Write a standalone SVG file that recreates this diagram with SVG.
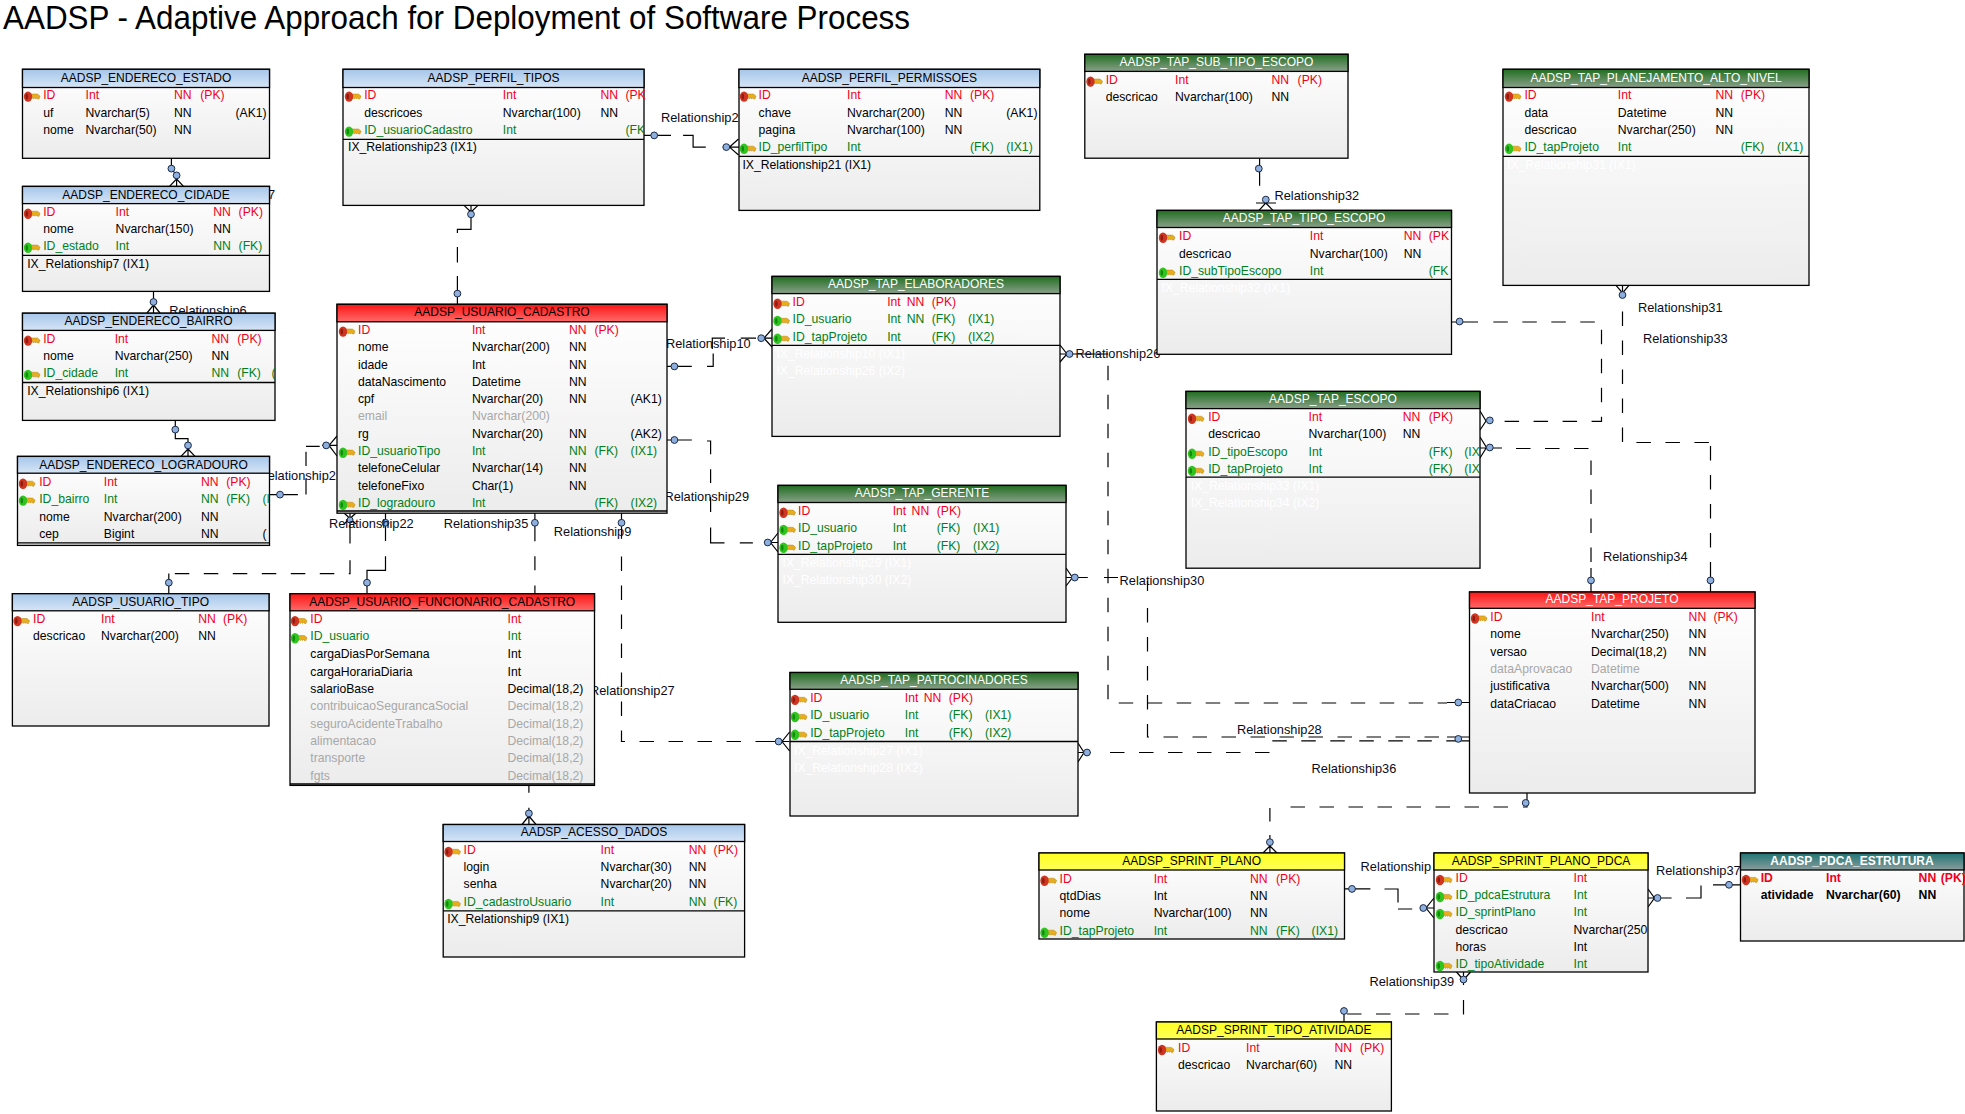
<svg xmlns="http://www.w3.org/2000/svg" width="1965" height="1114" viewBox="0 0 1965 1114">
<style>
text{font-family:"Liberation Sans",Arial,sans-serif;font-size:12.2px;fill:#000}
.title{font-size:33px}
.l{font-size:12.8px;fill:#0a0a20}
.h{font-size:12px;text-anchor:middle;transform:translateY(-1px)}
.hw{font-size:12px;text-anchor:middle;fill:#fff;transform:translateY(-1px)}
.r{fill:#f00020}
.g{fill:#008020}
.q{fill:#a8a8a8}
.w{fill:#fff}
.bd{font-weight:bold}
.b{fill:url(#body);stroke:#000;stroke-width:1.3}
.hb,.hr,.hg,.hy,.ht{stroke:#000;stroke-width:1.3}
.hb{fill:url(#gb)}.hr{fill:url(#gr)}.hg{fill:url(#gg)}.hy{fill:url(#gy)}.ht{fill:url(#gt)}
.dv{stroke:#000;stroke-width:1.3;fill:none}
.c{fill:none;stroke:#000;stroke-width:1.2}
.d{fill:none;stroke:#000;stroke-width:1.2;stroke-dasharray:14.5 14.5}
.o{fill:#8fb0dc;stroke:#1a2a4a;stroke-width:1}
</style>
<defs>
<linearGradient id="body" x1="0" y1="0" x2="0" y2="1"><stop offset="0" stop-color="#ffffff"/><stop offset="1" stop-color="#ececec"/></linearGradient>
<linearGradient id="gb" x1="0" y1="0" x2="0" y2="1"><stop offset="0" stop-color="#a6c6ea"/><stop offset="1" stop-color="#d6e5f6"/></linearGradient>
<linearGradient id="gr" x1="0" y1="0" x2="0" y2="1"><stop offset="0" stop-color="#ff1414"/><stop offset="1" stop-color="#ff6a6a"/></linearGradient>
<linearGradient id="gg" x1="0" y1="0" x2="0" y2="1"><stop offset="0" stop-color="#206e20"/><stop offset="1" stop-color="#8aa08a"/></linearGradient>
<linearGradient id="gy" x1="0" y1="0" x2="0" y2="1"><stop offset="0" stop-color="#ffff20"/><stop offset="1" stop-color="#ffff5a"/></linearGradient>
<linearGradient id="gt" x1="0" y1="0" x2="0" y2="1"><stop offset="0" stop-color="#1f7474"/><stop offset="1" stop-color="#8a9c9c"/></linearGradient>
<g id="key"><path d="M6.5 -2.6h7l2.6 2.2-1.2 2.8h-1.4l-.9-1.2-1 1.2-1-1.2-1 1.2-1-1.2-1 1.2H6.5z" fill="#e8ad1c" stroke="#b5851a" stroke-width=".5"/></g>
<g id="pk"><use href="#key"/><ellipse cx="4" cy="0" rx="4.2" ry="5.2" fill="#cf3520"/><ellipse cx="2.8" cy="0" rx="1.3" ry="3" fill="#8e1c10"/></g>
<g id="fk"><use href="#key"/><ellipse cx="4" cy="0" rx="4.2" ry="5.2" fill="#30c41e"/><ellipse cx="2.8" cy="0" rx="1.3" ry="3" fill="#128a10"/></g>
</defs>
<rect width="1965" height="1114" fill="#fff"/>
<text class="title" x="3" y="29" textLength="907" lengthAdjust="spacingAndGlyphs">AADSP - Adaptive Approach for Deployment of Software Process</text>

<g id="connectors">
<path class="c" d="M171.4 158V168.6L176.6 175.4V186.4M176.6 179L169.5 186.4M176.6 179L183.5 186.4"/><circle class="o" cx="171.4" cy="168.6" r="3.4"/><circle class="o" cx="176.6" cy="175.4" r="3.4"/>
<path class="c" d="M153.5 291.4V313M153.5 305L147 313M153.5 305L160 313"/><circle class="o" cx="153.5" cy="302" r="3.4"/>
<path class="c" d="M175.3 420.4V438.6H188V456.4M188 449L181 456.4M188 449L195 456.4"/><circle class="o" cx="175.3" cy="429.6" r="3.4"/><circle class="o" cx="188" cy="445.4" r="3.4"/>
<path class="c" d="M471 205.4V229.3H457.4V233M471 212L464 205.4M471 212L478 205.4M457.4 247V262.5M457.4 276V304.3"/><circle class="o" cx="471" cy="214.3" r="3.4"/><circle class="o" cx="457.4" cy="293.6" r="3.4"/>
<path class="c" d="M644 135.4H671M683.1 135.4H693.1V147.1H705.8M722.7 147.1H739M738.5 139L729.5 147.1L738.5 155"/><circle class="o" cx="654.2" cy="135.4" r="3.4"/><circle class="o" cx="726.3" cy="147.1" r="3.4"/>
<path class="c" d="M269.5 494.6H297.9M306 478.6V494.6M306 451.8V466M306 446.4H319.7M322 445.4H337M337 436L329 445.4L337 456"/><circle class="o" cx="280" cy="494.6" r="3.4"/><circle class="o" cx="326.2" cy="445.4" r="3.4"/>
<path class="c" d="M667 366.4H691.8M707 366.4H713.2V353.6M712.3 349V338.2H725M740.7 338.2H756M758 338.2H772M772 329L764 338.2L772 347"/><circle class="o" cx="674.4" cy="366.4" r="3.4"/><circle class="o" cx="761.2" cy="338.2" r="3.4"/>
<path class="c" d="M667 440H691.8M707 441H710.6V454.3M710.6 469.3V482.9M710.6 497V512M710.6 527.5V542.9H724.5M739.8 542.9H752.9M764 542.5H778M778 533L770.5 542.5L778 552"/><circle class="o" cx="674.4" cy="440" r="3.4"/><circle class="o" cx="767.7" cy="542.5" r="3.4"/>
<path class="c" d="M1060 345L1067 354L1060 362M1060 354H1108M1447 702.5H1469.5"/><path class="d" d="M1108 365.7V703H1447"/><circle class="o" cx="1069.5" cy="354" r="3.4"/><circle class="o" cx="1458.3" cy="702.5" r="3.4"/>
<path class="c" d="M1066 568L1072.5 577.5L1066 586M1066 577.5H1087.8M1104 577.5H1118M1147.5 581V591M1447 737H1469.5"/><path class="d" d="M1147.5 608V737H1447"/><circle class="o" cx="1074.8" cy="577.5" r="3.4"/>
<path class="c" d="M1078 743L1084 752.5L1078 762M1078 752.5H1091M1447 740.8H1469.5"/><path class="d" d="M1110 752.5H1270V740.8H1447"/><circle class="o" cx="1087" cy="752.5" r="3.4"/><circle class="o" cx="1458.3" cy="738.9" r="3.4"/>
<path class="c" d="M789.6 732L782 741.5L789.6 751M766 741.5H789.6M621.5 513V538.7"/><path class="d" d="M621.5 556.5V741.5H766"/><circle class="o" cx="778.6" cy="741.5" r="3.4"/><circle class="o" cx="621.5" cy="522.8" r="3.4"/>
<path class="c" d="M534.9 513V541.2M534.9 556.3V570.3M534.9 585.4V594M528.9 786V792.7M528.9 807.8V824.5M528.9 816L522 824.5M528.9 816L536 824.5"/><circle class="o" cx="534.9" cy="522.8" r="3.4"/><circle class="o" cx="528.9" cy="813.4" r="3.4"/>
<path class="c" d="M344 513L356 524M356 513L344 524M350 513V543.5M168.8 573.6V593.7"/><path class="d" d="M350 560.3V573.6H168.8"/><circle class="o" cx="350" cy="520" r="3"/><circle class="o" cx="168.8" cy="582.7" r="3.4"/>
<path class="c" d="M385.5 513V540.9M385.5 556.3V570.3H367V593.7"/><circle class="o" cx="385.5" cy="522.8" r="3.4"/><circle class="o" cx="367" cy="582.7" r="3.4"/>
<path class="c" d="M1616 285.4L1622.5 293L1629 285.4M1622.5 285.4V298M1710.5 570V592"/><path class="d" d="M1622.5 311.4V442.5H1710.5M1710.5 446V570"/><circle class="o" cx="1622.5" cy="295" r="3.4"/><circle class="o" cx="1710.5" cy="580.4" r="3.4"/>
<path class="c" d="M1451.5 322H1478M1480 411L1486 421L1480 430"/><path class="d" d="M1493.3 322H1601.5V421.4H1499"/><circle class="o" cx="1459.6" cy="321.5" r="3.4"/><circle class="o" cx="1489.8" cy="420.4" r="3.4"/>
<path class="c" d="M1480 437L1486.5 447.5L1480 458M1480 448H1502M1591 568V592"/><path class="d" d="M1516 448.5H1591V568"/><circle class="o" cx="1489.8" cy="447.5" r="3.4"/><circle class="o" cx="1591" cy="580.4" r="3.4"/>
<path class="c" d="M1527 793V807H1523M1269.9 808V821.5M1269.9 835V853M1269.9 846L1263 853M1269.9 846L1277 853"/><path class="d" d="M1508 807H1279"/><circle class="o" cx="1525.7" cy="802.9" r="3.4"/><circle class="o" cx="1269.9" cy="842.2" r="3.4"/>
<path class="c" d="M1344.5 888.9H1370.4M1384.5 889H1398V902.5M1398 909H1412.2M1420 908H1434M1434 898L1426 908L1434 918"/><circle class="o" cx="1352" cy="888.9" r="3.4"/><circle class="o" cx="1423.3" cy="908" r="3.4"/>
<path class="c" d="M1648 889L1654.5 898L1648 907M1648 898H1671.6M1686 898H1701V885.5M1713 884.8H1740.5"/><circle class="o" cx="1657.5" cy="898" r="3.4"/><circle class="o" cx="1729" cy="884.8" r="3.4"/>
<path class="c" d="M1456.5 972L1463.5 980L1470.5 972M1463.5 972V985M1344 1012V1022"/><path class="d" d="M1463.5 1000V1014H1344"/><circle class="o" cx="1463.5" cy="979.5" r="3.4"/><circle class="o" cx="1344" cy="1011" r="3.4"/>
<path class="c" d="M1259.6 158.2V185.7M1256 203H1276M1265.8 203L1259 210.4M1265.8 203L1273 210.4"/><circle class="o" cx="1258.8" cy="168.6" r="3.4"/><circle class="o" cx="1265.8" cy="199.6" r="3.4"/>
<text class="l" x="197.5" y="198.5">Relationship7</text>
<text class="l" x="169.2" y="315">Relationship6</text>
<text class="l" x="258.4" y="480">Relationship2</text>
<text class="l" x="661" y="122">Relationship2</text>
<text class="l" x="666" y="348">Relationship10</text>
<text class="l" x="664.4" y="501.3">Relationship29</text>
<text class="l" x="1075.6" y="358">Relationship26</text>
<text class="l" x="1119.6" y="585">Relationship30</text>
<text class="l" x="1274.5" y="200">Relationship32</text>
<text class="l" x="1637.9" y="312.4">Relationship31</text>
<text class="l" x="1643" y="343">Relationship33</text>
<text class="l" x="1602.9" y="561.3">Relationship34</text>
<text class="l" x="1237" y="734">Relationship28</text>
<text class="l" x="1311.6" y="772.7">Relationship36</text>
<text class="l" x="1360.6" y="871">Relationship</text>
<text class="l" x="1656" y="875">Relationship37</text>
<text class="l" x="1369.5" y="986">Relationship39</text>
<text class="l" x="329" y="527.5">Relationship22</text>
<text class="l" x="443.7" y="528">Relationship35</text>
<text class="l" x="553.8" y="535.5">Relationship9</text>
<text class="l" x="590" y="694.5">Relationship27</text>
</g>

<g id="AADSP_ENDERECO_ESTADO">
<rect class="b" x="22.5" y="69.3" width="247" height="89"/><rect class="hb" x="22.5" y="69.3" width="247" height="18.2"/>
<text class="h" x="146" y="82.5">AADSP_ENDERECO_ESTADO</text>
<use href="#pk" x="24" y="96.6"/>
<text class="r" y="98.8"><tspan x="43.2">ID</tspan><tspan x="85.5">Int</tspan><tspan x="174">NN</tspan><tspan x="200.2">(PK)</tspan></text>
<text y="117.1"><tspan x="43.2">uf</tspan><tspan x="85.5">Nvarchar(5)</tspan><tspan x="174">NN</tspan><tspan x="235.5">(AK1)</tspan></text>
<text y="133.8"><tspan x="43.2">nome</tspan><tspan x="85.5">Nvarchar(50)</tspan><tspan x="174">NN</tspan></text>
</g>
<g id="AADSP_ENDERECO_CIDADE">
<rect class="b" x="22.5" y="186.4" width="247" height="105"/><rect class="hb" x="22.5" y="186.4" width="247" height="17.2"/><path class="dv" d="M22.5 255.4H269.5"/>
<text class="h" x="146" y="199.5">AADSP_ENDERECO_CIDADE</text>
<use href="#pk" x="24" y="213.8"/>
<text class="r" y="216"><tspan x="43.2">ID</tspan><tspan x="115.6">Int</tspan><tspan x="213.3">NN</tspan><tspan x="238.6">(PK)</tspan></text>
<text y="232.8"><tspan x="43.2">nome</tspan><tspan x="115.6">Nvarchar(150)</tspan><tspan x="213.3">NN</tspan></text>
<use href="#fk" x="24" y="247.7"/>
<text class="g" y="249.9"><tspan x="43.2">ID_estado</tspan><tspan x="115.6">Int</tspan><tspan x="213.3">NN</tspan><tspan x="238.6">(FK)</tspan></text>
<text x="27.2" y="267.8">IX_Relationship7 (IX1)</text>
</g>
<g id="AADSP_ENDERECO_BAIRRO">
<rect class="b" x="22.5" y="313.2" width="252.5" height="107.2"/><rect class="hb" x="22.5" y="313.2" width="252.5" height="17.2"/><path class="dv" d="M22.5 382.5H275"/>
<text class="h" x="148.5" y="326.2">AADSP_ENDERECO_BAIRRO</text>
<use href="#pk" x="24" y="340.6"/>
<text class="r" y="342.8"><tspan x="43.2">ID</tspan><tspan x="114.7">Int</tspan><tspan x="211.5">NN</tspan><tspan x="237.2">(PK)</tspan></text>
<text y="359.9"><tspan x="43.2">nome</tspan><tspan x="114.7">Nvarchar(250)</tspan><tspan x="211.5">NN</tspan></text>
<use href="#fk" x="24" y="374.9"/>
<text class="g" y="377.1"><tspan x="43.2">ID_cidade</tspan><tspan x="114.7">Int</tspan><tspan x="211.5">NN</tspan><tspan x="237.2">(FK)</tspan><tspan x="271.5">(</tspan></text>
<text x="27.2" y="394.9">IX_Relationship6 (IX1)</text>
</g>
<g id="AADSP_ENDERECO_LOGRADOURO">
<rect class="b" x="17.5" y="456.4" width="252" height="89"/><rect class="hb" x="17.5" y="456.4" width="252" height="16.8"/><path class="dv" d="M17.5 542.9H269.5"/>
<text class="h" x="143.5" y="469.5">AADSP_ENDERECO_LOGRADOURO</text>
<use href="#pk" x="19" y="483.8"/>
<text class="r" y="486"><tspan x="39.2">ID</tspan><tspan x="103.8">Int</tspan><tspan x="201">NN</tspan><tspan x="226.3">(PK)</tspan></text>
<use href="#fk" x="19" y="500.6"/>
<text class="g" y="502.8"><tspan x="39.2">ID_bairro</tspan><tspan x="103.8">Int</tspan><tspan x="201">NN</tspan><tspan x="226.3">(FK)</tspan><tspan x="262.5">(I</tspan></text>
<text y="521"><tspan x="39.2">nome</tspan><tspan x="103.8">Nvarchar(200)</tspan><tspan x="201">NN</tspan></text>
<text y="537.8"><tspan x="39.2">cep</tspan><tspan x="103.8">Bigint</tspan><tspan x="201">NN</tspan><tspan x="262.5">(</tspan></text>
</g>
<g id="AADSP_PERFIL_TIPOS">
<rect class="b" x="343" y="69.3" width="301" height="136.1"/><rect class="hb" x="343" y="69.3" width="301" height="18.2"/><path class="dv" d="M343 139.3H644"/>
<text class="h" x="493.5" y="82.5">AADSP_PERFIL_TIPOS</text>
<use href="#pk" x="345" y="96.6"/>
<text class="r" y="98.8"><tspan x="364.2">ID</tspan><tspan x="502.8">Int</tspan><tspan x="600.5">NN</tspan><tspan x="625.4">(PK</tspan></text>
<text y="117.1"><tspan x="364.2">descricoes</tspan><tspan x="502.8">Nvarchar(100)</tspan><tspan x="600.5">NN</tspan></text>
<use href="#fk" x="345" y="131.6"/>
<text class="g" y="133.8"><tspan x="364.2">ID_usuarioCadastro</tspan><tspan x="502.8">Int</tspan><tspan x="625.4">(FK</tspan></text>
<text x="348" y="151">IX_Relationship23 (IX1)</text>
</g>
<g id="AADSP_USUARIO_CADASTRO">
<rect class="b" x="337" y="304.3" width="330" height="208.9"/><rect class="hr" x="337" y="304.3" width="330" height="17.5"/><path class="dv" d="M337 511H667"/>
<text class="h" x="502" y="317.4">AADSP_USUARIO_CADASTRO</text>
<use href="#pk" x="339" y="331.6"/>
<text class="r" y="333.8"><tspan x="358">ID</tspan><tspan x="471.9">Int</tspan><tspan x="569">NN</tspan><tspan x="594.4">(PK)</tspan></text>
<text y="351"><tspan x="358">nome</tspan><tspan x="471.9">Nvarchar(200)</tspan><tspan x="569">NN</tspan></text>
<text y="368.8"><tspan x="358">idade</tspan><tspan x="471.9">Int</tspan><tspan x="569">NN</tspan></text>
<text y="386"><tspan x="358">dataNascimento</tspan><tspan x="471.9">Datetime</tspan><tspan x="569">NN</tspan></text>
<text y="402.8"><tspan x="358">cpf</tspan><tspan x="471.9">Nvarchar(20)</tspan><tspan x="569">NN</tspan><tspan x="630.6">(AK1)</tspan></text>
<text class="q" y="419.9"><tspan x="358">email</tspan><tspan x="471.9">Nvarchar(200)</tspan></text>
<text y="437.8"><tspan x="358">rg</tspan><tspan x="471.9">Nvarchar(20)</tspan><tspan x="569">NN</tspan><tspan x="630.6">(AK2)</tspan></text>
<use href="#fk" x="339" y="452.7"/>
<text class="g" y="454.9"><tspan x="358">ID_usuarioTipo</tspan><tspan x="471.9">Int</tspan><tspan x="569">NN</tspan><tspan x="594.4">(FK)</tspan><tspan x="630.6">(IX1)</tspan></text>
<text y="472.1"><tspan x="358">telefoneCelular</tspan><tspan x="471.9">Nvarchar(14)</tspan><tspan x="569">NN</tspan></text>
<text y="489.9"><tspan x="358">telefoneFixo</tspan><tspan x="471.9">Char(1)</tspan><tspan x="569">NN</tspan></text>
<use href="#fk" x="339" y="504.9"/>
<text class="g" y="507.1"><tspan x="358">ID_logradouro</tspan><tspan x="471.9">Int</tspan><tspan x="594.4">(FK)</tspan><tspan x="630.6">(IX2)</tspan></text>
</g>
<g id="AADSP_PERFIL_PERMISSOES">
<rect class="b" x="739" y="69.3" width="300.8" height="141.1"/><rect class="hb" x="739" y="69.3" width="300.8" height="18.2"/><path class="dv" d="M739 156.4H1039.8"/>
<text class="h" x="889.4" y="82.5">AADSP_PERFIL_PERMISSOES</text>
<use href="#pk" x="740" y="96.6"/>
<text class="r" y="98.8"><tspan x="758.6">ID</tspan><tspan x="847">Int</tspan><tspan x="944.8">NN</tspan><tspan x="970">(PK)</tspan></text>
<text y="116.7"><tspan x="758.6">chave</tspan><tspan x="847">Nvarchar(200)</tspan><tspan x="944.8">NN</tspan><tspan x="1006.3">(AK1)</tspan></text>
<text y="133.8"><tspan x="758.6">pagina</tspan><tspan x="847">Nvarchar(100)</tspan><tspan x="944.8">NN</tspan></text>
<use href="#fk" x="740" y="148.8"/>
<text class="g" y="151"><tspan x="758.6">ID_perfilTipo</tspan><tspan x="847">Int</tspan><tspan x="970">(FK)</tspan><tspan x="1006.3">(IX1)</tspan></text>
<text x="742.4" y="168.8">IX_Relationship21 (IX1)</text>
</g>
<g id="AADSP_TAP_SUB_TIPO_ESCOPO">
<rect class="b" x="1084.8" y="54.3" width="263.2" height="103.9"/><rect class="hg" x="1084.8" y="54.3" width="263.2" height="17.1"/>
<text class="hw" x="1216.4" y="67">AADSP_TAP_SUB_TIPO_ESCOPO</text>
<use href="#pk" x="1086.5" y="81.6"/>
<text class="r" y="83.8"><tspan x="1105.7">ID</tspan><tspan x="1175">Int</tspan><tspan x="1271.4">NN</tspan><tspan x="1297.6">(PK)</tspan></text>
<text y="101"><tspan x="1105.7">descricao</tspan><tspan x="1175">Nvarchar(100)</tspan><tspan x="1271.4">NN</tspan></text>
</g>
<g id="AADSP_TAP_TIPO_ESCOPO">
<rect class="b" x="1157" y="210.4" width="294.5" height="143.9"/><rect class="hg" x="1157" y="210.4" width="294.5" height="17.1"/><path class="dv" d="M1157 279.3H1451.5"/>
<text class="hw" x="1304" y="223.2">AADSP_TAP_TIPO_ESCOPO</text>
<use href="#pk" x="1159" y="237.7"/>
<text class="r" y="239.9"><tspan x="1179">ID</tspan><tspan x="1309.8">Int</tspan><tspan x="1403.7">NN</tspan><tspan x="1428.8">(PK</tspan></text>
<text y="257.8"><tspan x="1179">descricao</tspan><tspan x="1309.8">Nvarchar(100)</tspan><tspan x="1403.7">NN</tspan></text>
<use href="#fk" x="1159" y="272.7"/>
<text class="g" y="274.9"><tspan x="1179">ID_subTipoEscopo</tspan><tspan x="1309.8">Int</tspan><tspan x="1428.8">(FK</tspan></text>
<text class="w" x="1161.5" y="292.1">IX_Relationship32 (IX1)</text>
</g>
<g id="AADSP_TAP_ELABORADORES">
<rect class="b" x="772" y="276.4" width="288" height="160"/><rect class="hg" x="772" y="276.4" width="288" height="17.2"/><path class="dv" d="M772 345.4H1060"/>
<text class="hw" x="916" y="289.2">AADSP_TAP_ELABORADORES</text>
<use href="#pk" x="773.5" y="303.8"/>
<text class="r" y="306"><tspan x="792.6">ID</tspan><tspan x="887.2">Int</tspan><tspan x="906.8">NN</tspan><tspan x="931.7">(PK)</tspan></text>
<use href="#fk" x="773.5" y="320.9"/>
<text class="g" y="323.1"><tspan x="792.6">ID_usuario</tspan><tspan x="887.2">Int</tspan><tspan x="906.8">NN</tspan><tspan x="931.7">(FK)</tspan><tspan x="967.9">(IX1)</tspan></text>
<use href="#fk" x="773.5" y="338.8"/>
<text class="g" y="341"><tspan x="792.6">ID_tapProjeto</tspan><tspan x="887.2">Int</tspan><tspan x="931.7">(FK)</tspan><tspan x="967.9">(IX2)</tspan></text>
<text class="w" x="776.4" y="358.1">IX_Relationship10 (IX1)</text>
<text class="w" x="776.4" y="375.3">IX_Relationship26 (IX2)</text>
</g>
<g id="AADSP_TAP_GERENTE">
<rect class="b" x="778" y="485.4" width="288" height="136.9"/><rect class="hg" x="778" y="485.4" width="288" height="17.1"/><path class="dv" d="M778 554.3H1066"/>
<text class="hw" x="922" y="498.2">AADSP_TAP_GERENTE</text>
<use href="#pk" x="779.5" y="512.7"/>
<text class="r" y="514.9"><tspan x="798">ID</tspan><tspan x="892.7">Int</tspan><tspan x="911.6">NN</tspan><tspan x="936.7">(PK)</tspan></text>
<use href="#fk" x="779.5" y="529.9"/>
<text class="g" y="532.1"><tspan x="798">ID_usuario</tspan><tspan x="892.7">Int</tspan><tspan x="936.7">(FK)</tspan><tspan x="973">(IX1)</tspan></text>
<use href="#fk" x="779.5" y="547.7"/>
<text class="g" y="549.9"><tspan x="798">ID_tapProjeto</tspan><tspan x="892.7">Int</tspan><tspan x="936.7">(FK)</tspan><tspan x="973">(IX2)</tspan></text>
<text class="w" x="782.5" y="567.1">IX_Relationship29 (IX1)</text>
<text class="w" x="782.5" y="584.2">IX_Relationship30 (IX2)</text>
</g>
<g id="AADSP_TAP_ESCOPO">
<rect class="b" x="1186" y="391.4" width="294" height="176.8"/><rect class="hg" x="1186" y="391.4" width="294" height="17.2"/><path class="dv" d="M1186 477.1H1480"/>
<text class="hw" x="1333" y="404.2">AADSP_TAP_ESCOPO</text>
<use href="#pk" x="1188" y="418.8"/>
<text class="r" y="421"><tspan x="1208.2">ID</tspan><tspan x="1308.5">Int</tspan><tspan x="1402.8">NN</tspan><tspan x="1428.8">(PK)</tspan></text>
<text y="437.8"><tspan x="1208.2">descricao</tspan><tspan x="1308.5">Nvarchar(100)</tspan><tspan x="1402.8">NN</tspan></text>
<use href="#fk" x="1188" y="453.8"/>
<text class="g" y="456"><tspan x="1208.2">ID_tipoEscopo</tspan><tspan x="1308.5">Int</tspan><tspan x="1428.8">(FK)</tspan><tspan x="1464.2">(IX</tspan></text>
<use href="#fk" x="1188" y="470.9"/>
<text class="g" y="473.1"><tspan x="1208.2">ID_tapProjeto</tspan><tspan x="1308.5">Int</tspan><tspan x="1428.8">(FK)</tspan><tspan x="1464.2">(IX</tspan></text>
<text class="w" x="1190.7" y="490.2">IX_Relationship33 (IX1)</text>
<text class="w" x="1190.7" y="507.1">IX_Relationship34 (IX2)</text>
</g>
<g id="AADSP_TAP_PLANEJAMENTO_ALTO_NIVEL">
<rect class="b" x="1503" y="69.3" width="306" height="216.1"/><rect class="hg" x="1503" y="69.3" width="306" height="18.2"/><path class="dv" d="M1503 156.4H1809"/>
<text class="hw" x="1656" y="82.5">AADSP_TAP_PLANEJAMENTO_ALTO_NIVEL</text>
<use href="#pk" x="1505" y="96.6"/>
<text class="r" y="98.8"><tspan x="1524.4">ID</tspan><tspan x="1617.8">Int</tspan><tspan x="1715.5">NN</tspan><tspan x="1740.7">(PK)</tspan></text>
<text y="116.7"><tspan x="1524.4">data</tspan><tspan x="1617.8">Datetime</tspan><tspan x="1715.5">NN</tspan></text>
<text y="133.8"><tspan x="1524.4">descricao</tspan><tspan x="1617.8">Nvarchar(250)</tspan><tspan x="1715.5">NN</tspan></text>
<use href="#fk" x="1505" y="148.8"/>
<text class="g" y="151"><tspan x="1524.4">ID_tapProjeto</tspan><tspan x="1617.8">Int</tspan><tspan x="1740.7">(FK)</tspan><tspan x="1777">(IX1)</tspan></text>
<text class="w" x="1507" y="168.8">IX_Relationship31 (IX1)</text>
</g>
<g id="AADSP_TAP_PROJETO">
<rect class="b" x="1469.5" y="592" width="285.5" height="201"/><rect class="hr" x="1469.5" y="592" width="285.5" height="16.3"/>
<text class="hw" x="1612" y="604.4">AADSP_TAP_PROJETO</text>
<use href="#pk" x="1471" y="618.5"/>
<text class="r" y="620.7"><tspan x="1490.3">ID</tspan><tspan x="1591">Int</tspan><tspan x="1688.6">NN</tspan><tspan x="1713.4">(PK)</tspan></text>
<text y="638.2"><tspan x="1490.3">nome</tspan><tspan x="1591">Nvarchar(250)</tspan><tspan x="1688.6">NN</tspan></text>
<text y="656.2"><tspan x="1490.3">versao</tspan><tspan x="1591">Decimal(18,2)</tspan><tspan x="1688.6">NN</tspan></text>
<text class="q" y="673.2"><tspan x="1490.3">dataAprovacao</tspan><tspan x="1591">Datetime</tspan></text>
<text y="690.2"><tspan x="1490.3">justificativa</tspan><tspan x="1591">Nvarchar(500)</tspan><tspan x="1688.6">NN</tspan></text>
<text y="708.2"><tspan x="1490.3">dataCriacao</tspan><tspan x="1591">Datetime</tspan><tspan x="1688.6">NN</tspan></text>
</g>
<g id="AADSP_USUARIO_TIPO">
<rect class="b" x="12.4" y="593.7" width="256.6" height="132.3"/><rect class="hb" x="12.4" y="593.7" width="256.6" height="17.1"/>
<text class="h" x="140.7" y="606.5">AADSP_USUARIO_TIPO</text>
<use href="#pk" x="13.5" y="621.1"/>
<text class="r" y="623.3"><tspan x="33">ID</tspan><tspan x="101">Int</tspan><tspan x="198.2">NN</tspan><tspan x="223">(PK)</tspan></text>
<text y="640.4"><tspan x="33">descricao</tspan><tspan x="101">Nvarchar(200)</tspan><tspan x="198.2">NN</tspan></text>
</g>
<g id="AADSP_USUARIO_FUNCIONARIO_CADASTRO">
<rect class="b" x="290" y="593.7" width="304.5" height="191.7"/><rect class="hr" x="290" y="593.7" width="304.5" height="17.1"/><path class="dv" d="M290 784H594.5" stroke-width="2"/>
<text class="h" x="442.2" y="606.5">AADSP_USUARIO_FUNCIONARIO_CADASTRO</text>
<use href="#pk" x="291" y="621.1"/>
<text class="r" y="623.3"><tspan x="310.3">ID</tspan><tspan x="507.5">Int</tspan></text>
<use href="#fk" x="291" y="638.2"/>
<text class="g" y="640.4"><tspan x="310.3">ID_usuario</tspan><tspan x="507.5">Int</tspan></text>
<text y="658.4"><tspan x="310.3">cargaDiasPorSemana</tspan><tspan x="507.5">Int</tspan></text>
<text y="675.5"><tspan x="310.3">cargaHorariaDiaria</tspan><tspan x="507.5">Int</tspan></text>
<text y="692.6"><tspan x="310.3">salarioBase</tspan><tspan x="507.5">Decimal(18,2)</tspan></text>
<text class="q" y="710"><tspan x="310.3">contribuicaoSegurancaSocial</tspan><tspan x="507.5">Decimal(18,2)</tspan></text>
<text class="q" y="727.7"><tspan x="310.3">seguroAcidenteTrabalho</tspan><tspan x="507.5">Decimal(18,2)</tspan></text>
<text class="q" y="744.7"><tspan x="310.3">alimentacao</tspan><tspan x="507.5">Decimal(18,2)</tspan></text>
<text class="q" y="761.8"><tspan x="310.3">transporte</tspan><tspan x="507.5">Decimal(18,2)</tspan></text>
<text class="q" y="779.8"><tspan x="310.3">fgts</tspan><tspan x="507.5">Decimal(18,2)</tspan></text>
</g>
<g id="AADSP_ACESSO_DADOS">
<rect class="b" x="443.2" y="824.5" width="301.4" height="132.5"/><rect class="hb" x="443.2" y="824.5" width="301.4" height="17"/><path class="dv" d="M443.2 910.8H744.6"/>
<text class="h" x="594" y="837.3">AADSP_ACESSO_DADOS</text>
<use href="#pk" x="444.5" y="851.9"/>
<text class="r" y="854.1"><tspan x="463.6">ID</tspan><tspan x="600.6">Int</tspan><tspan x="688.7">NN</tspan><tspan x="713.6">(PK)</tspan></text>
<text y="871.1"><tspan x="463.6">login</tspan><tspan x="600.6">Nvarchar(30)</tspan><tspan x="688.7">NN</tspan></text>
<text y="888.2"><tspan x="463.6">senha</tspan><tspan x="600.6">Nvarchar(20)</tspan><tspan x="688.7">NN</tspan></text>
<use href="#fk" x="444.5" y="904"/>
<text class="g" y="906.2"><tspan x="463.6">ID_cadastroUsuario</tspan><tspan x="600.6">Int</tspan><tspan x="688.7">NN</tspan><tspan x="713.6">(FK)</tspan></text>
<text x="447.2" y="923.2">IX_Relationship9 (IX1)</text>
</g>
<g id="AADSP_TAP_PATROCINADORES">
<rect class="b" x="790" y="672.5" width="288" height="143.5"/><rect class="hg" x="790" y="672.5" width="288" height="16.8"/><path class="dv" d="M790 741.5H1078"/>
<text class="hw" x="934" y="685.2">AADSP_TAP_PATROCINADORES</text>
<use href="#pk" x="791" y="699.9"/>
<text class="r" y="702.1"><tspan x="810.2">ID</tspan><tspan x="904.8">Int</tspan><tspan x="923.7">NN</tspan><tspan x="948.8">(PK)</tspan></text>
<use href="#fk" x="791" y="717"/>
<text class="g" y="719.2"><tspan x="810.2">ID_usuario</tspan><tspan x="904.8">Int</tspan><tspan x="948.8">(FK)</tspan><tspan x="985">(IX1)</tspan></text>
<use href="#fk" x="791" y="734.8"/>
<text class="g" y="737"><tspan x="810.2">ID_tapProjeto</tspan><tspan x="904.8">Int</tspan><tspan x="948.8">(FK)</tspan><tspan x="985">(IX2)</tspan></text>
<text class="w" x="794" y="754.5">IX_Relationship27 (IX1)</text>
<text class="w" x="794" y="771.6">IX_Relationship28 (IX2)</text>
</g>
<g id="AADSP_SPRINT_PLANO">
<rect class="b" x="1039" y="853" width="305.5" height="86"/><rect class="hy" x="1039" y="853" width="305.5" height="17"/>
<text class="h" x="1191.7" y="865.8">AADSP_SPRINT_PLANO</text>
<use href="#pk" x="1040.5" y="880.8"/>
<text class="r" y="883"><tspan x="1059.6">ID</tspan><tspan x="1153.7">Int</tspan><tspan x="1250">NN</tspan><tspan x="1276">(PK)</tspan></text>
<text y="900.1"><tspan x="1059.6">qtdDias</tspan><tspan x="1153.7">Int</tspan><tspan x="1250">NN</tspan></text>
<text y="917.1"><tspan x="1059.6">nome</tspan><tspan x="1153.7">Nvarchar(100)</tspan><tspan x="1250">NN</tspan></text>
<use href="#fk" x="1040.5" y="932.8"/>
<text class="g" y="935"><tspan x="1059.6">ID_tapProjeto</tspan><tspan x="1153.7">Int</tspan><tspan x="1250">NN</tspan><tspan x="1276">(FK)</tspan><tspan x="1311.6">(IX1)</tspan></text>
</g>
<g id="AADSP_SPRINT_PLANO_PDCA">
<rect class="b" x="1434" y="853" width="214" height="119"/><rect class="hy" x="1434" y="853" width="214" height="17"/>
<text class="h" x="1541" y="865.8">AADSP_SPRINT_PLANO_PDCA</text>
<use href="#pk" x="1436" y="880"/>
<text class="r" y="882.2"><tspan x="1455.5">ID</tspan><tspan x="1573.5">Int</tspan></text>
<use href="#fk" x="1436" y="897"/>
<text class="g" y="899.2"><tspan x="1455.5">ID_pdcaEstrutura</tspan><tspan x="1573.5">Int</tspan></text>
<use href="#fk" x="1436" y="914"/>
<text class="g" y="916.2"><tspan x="1455.5">ID_sprintPlano</tspan><tspan x="1573.5">Int</tspan></text>
<text y="934.2"><tspan x="1455.5">descricao</tspan><tspan x="1573.5">Nvarchar(250</tspan></text>
<text y="951.2"><tspan x="1455.5">horas</tspan><tspan x="1573.5">Int</tspan></text>
<use href="#fk" x="1436" y="966"/>
<text class="g" y="968.2"><tspan x="1455.5">ID_tipoAtividade</tspan><tspan x="1573.5">Int</tspan></text>
</g>
<g id="AADSP_PDCA_ESTRUTURA">
<rect class="b" x="1740.5" y="853" width="223.5" height="88"/><rect class="ht" x="1740.5" y="853" width="223.5" height="17"/>
<text class="hw bd" x="1852" y="865.8">AADSP_PDCA_ESTRUTURA</text>
<use href="#pk" x="1742" y="880"/>
<text class="r bd" y="882.2"><tspan x="1760.7">ID</tspan><tspan x="1826">Int</tspan><tspan x="1918.6">NN</tspan><tspan x="1940.8">(PK)</tspan></text>
<text class="bd" y="899.2"><tspan x="1760.7">atividade</tspan><tspan x="1826">Nvarchar(60)</tspan><tspan x="1918.6">NN</tspan></text>
</g>
<g id="AADSP_SPRINT_TIPO_ATIVIDADE">
<rect class="b" x="1156.4" y="1022" width="235" height="89"/><rect class="hy" x="1156.4" y="1022" width="235" height="17"/>
<text class="h" x="1273.9" y="1034.8">AADSP_SPRINT_TIPO_ATIVIDADE</text>
<use href="#pk" x="1158" y="1050"/>
<text class="r" y="1052.2"><tspan x="1178">ID</tspan><tspan x="1246">Int</tspan><tspan x="1334.4">NN</tspan><tspan x="1360">(PK)</tspan></text>
<text y="1069.2"><tspan x="1178">descricao</tspan><tspan x="1246">Nvarchar(60)</tspan><tspan x="1334.4">NN</tspan></text>
</g>
</svg>
